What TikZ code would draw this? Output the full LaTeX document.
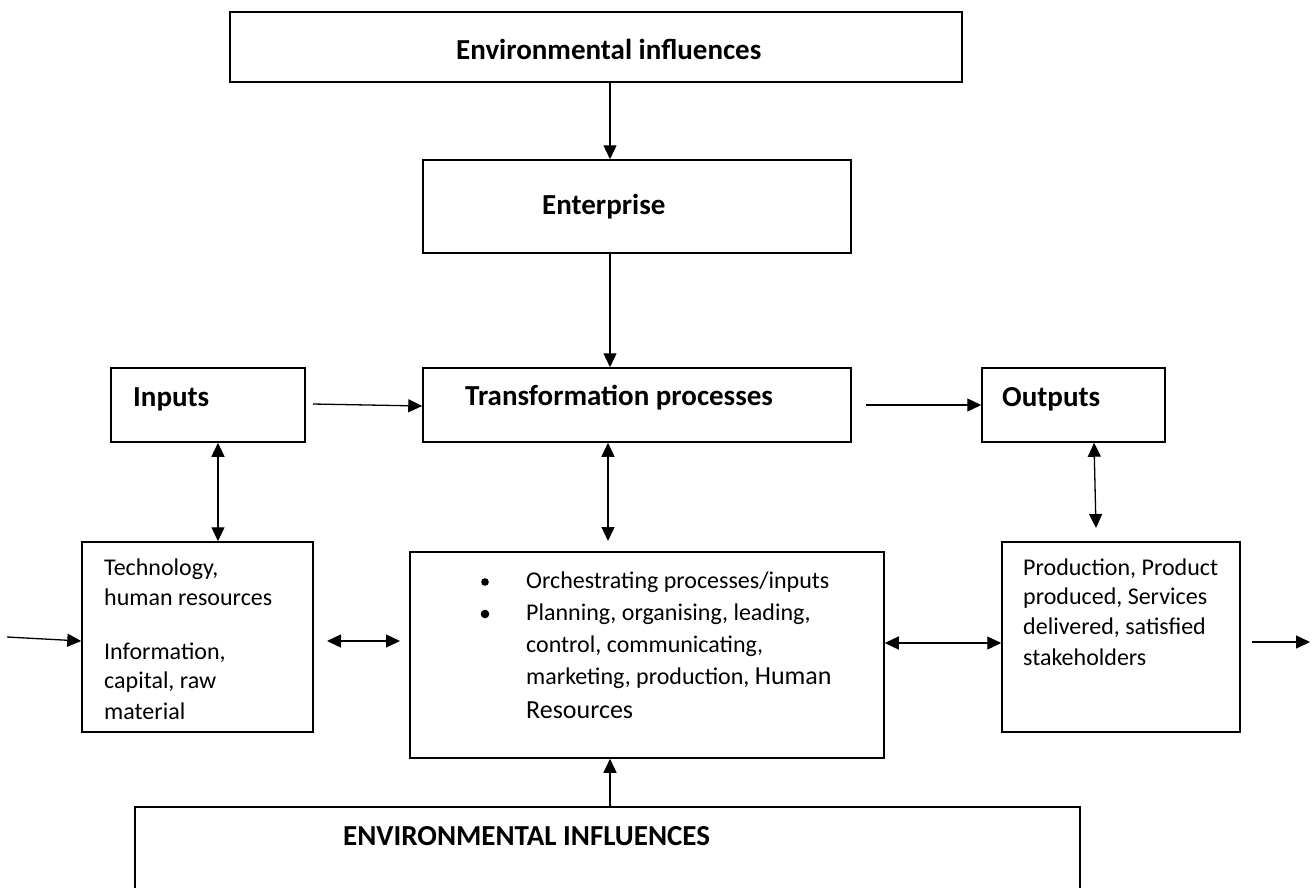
\documentclass[tikz,border=0pt]{standalone}
\usepackage{fontspec}
\setmainfont{Carlito}
\usetikzlibrary{arrows.meta}
\begin{document}
\begin{tikzpicture}[x=1pt,y=-1pt,
  box/.style={draw, line width=1.5pt, inner sep=0pt},
  tip/.style={-{Triangle[length=14pt,width=13pt]}},
  conn/.style={line width=1.3pt, tip},
  both/.style={line width=1.3pt, {Triangle[length=14pt,width=13pt]}-{Triangle[length=14pt,width=13pt]}},
  head/.style={font=\fontsize{29}{35}\selectfont\bfseries, anchor=west, inner sep=0pt},
  body/.style={font=\fontsize{24}{29}\selectfont, anchor=west, inner sep=0pt},
]
\useasboundingbox (0,0) rectangle (1314,887);
\clip (0,0) rectangle (1314,887);

% boxes
\node[box, minimum width=732pt, minimum height=70pt] (envtop) at (596,47) {};
\node[box, minimum width=428pt, minimum height=93pt] (ent) at (637,206.5) {};
\node[box, minimum width=194pt, minimum height=74pt] (inp) at (208,405) {};
\node[box, minimum width=428pt, minimum height=74pt] (trans) at (637,405) {};
\node[box, minimum width=183pt, minimum height=74pt] (outp) at (1073.5,405) {};
\node[box, minimum width=231pt, minimum height=190pt] (tech) at (197.5,637) {};
\node[box, minimum width=474pt, minimum height=206pt] (mid) at (647,655) {};
\node[box, minimum width=238pt, minimum height=190pt] (prod) at (1121,637) {};
\node[box, minimum width=945pt, minimum height=133pt] (envbot) at (607.5,873.5) {};

% headings
\node[head] at (456,49) {Environmental influences};
\node[head] at (542,207) {Enterprise};
\node[head] at (133,399) {Inputs};
\node[head] at (465,398) {Transformation processes};
\node[head] at (1002,399) {Outputs};
\node[head] at (343,836) {ENVIRONMENTAL INFLUENCES};

% box contents
\foreach \t/\y in {{Technology,}/569, {human resources}/597, {Information,}/653, {capital, raw}/682, {material}/711}
  \node[body] at (104,\y) {\t};
\foreach \t/\y in {{Production, Product}/569, {produced, Services}/598, {delivered, satisfied}/628, {stakeholders}/657}
  \node[body] at (1023,\y) {\t};
\fill (485,582) circle (3.8pt);
\fill (485,614) circle (4.3pt);
\foreach \t/\y in {{Orchestrating processes/inputs}/582, {Planning, organising, leading,}/614, {control, communicating,}/646}
  \node[body] at (526,\y) {\t};
\node[body] at (526,678) {marketing, production, {\fontsize{26}{31}\selectfont Human}};
\node[body, font=\fontsize{26}{31}\selectfont] at (526,710) {Resources};

% connector end points that stop short of a box
\coordinate (cx) at (610,0);
\coordinate (inA) at (313,404);
\coordinate (trB) at (866,405);
\coordinate (midT) at (608,541);
\coordinate (outB) at (1096,528);
\coordinate (leftA) at (7,637);
\coordinate (tmA) at (327,641);
\coordinate (tmB) at (400,641);
\coordinate (rightA) at (1252,642);
\coordinate (rightB) at (1310,642);

% connectors
\draw[conn] (envtop.south -| cx) -- (ent.north -| cx);
\draw[conn] (ent.south -| cx) -- (trans.north -| cx);
\draw[conn] (inA) -- (trans.west |- 0,406);
\draw[conn] (trB) -- (outp.west |- trB);
\draw[both] (inp.south -| 218,0) -- (tech.north -| 218,0);
\draw[both] (trans.south -| midT) -- (midT);
\draw[both] (outp.south -| 1094,0) -- (outB);
\draw[conn] (leftA) -- (tech.west |- 0,641);
\draw[both] (tmA) -- (tmB);
\draw[both] (mid.east |- 0,643) -- (prod.west |- 0,643);
\draw[conn] (rightA) -- (rightB);
\draw[conn] (envbot.north -| cx) -- (mid.south -| cx);
\end{tikzpicture}
\end{document}
